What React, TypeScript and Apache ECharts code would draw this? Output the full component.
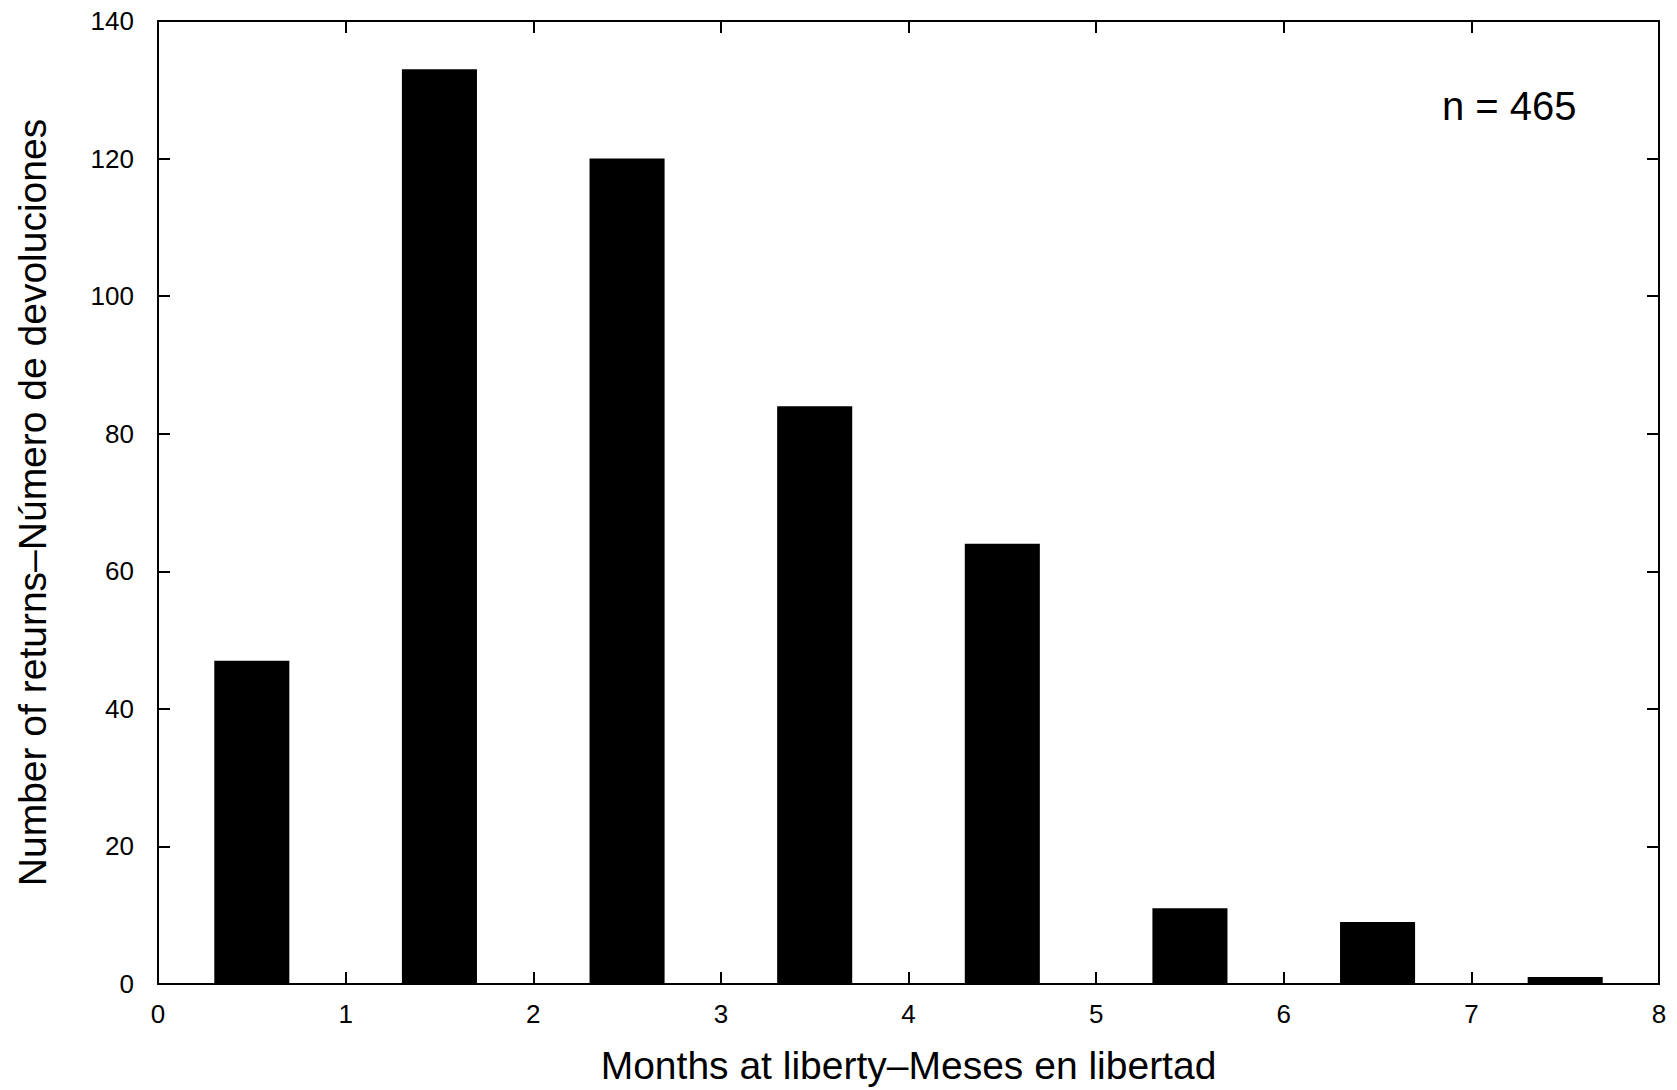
import React, { useEffect, useRef } from "react";
import * as echarts from "echarts";

const months = [0.5, 1.5, 2.5, 3.5, 4.5, 5.5, 6.5, 7.5];
const returns = [47, 133, 120, 84, 64, 11, 9, 1];
const xTicks = [0, 1, 2, 3, 4, 5, 6, 7, 8];
const yTicks = [0, 20, 40, 60, 80, 100, 120, 140];
const xTitle = "Months at liberty\u2013Meses en libertad";
const yTitle = "Number of returns\u2013Número de devoluciones";
const note = "n = 465";
const halfBin = 0.2;

const FONT = '"Liberation Sans", Arial, sans-serif';

export default function App() {
  const ref = useRef<HTMLDivElement>(null);
  useEffect(() => {
    document.body.style.margin = "0";
    const chart = echarts.init(ref.current!, null, { renderer: "svg" });
    const lineStyle = { color: "#000", width: 2 };
    const tick = { show: true, inside: true, length: 12, lineStyle: { color: "#000", width: 2 } };
    const label = { color: "#000", fontSize: 26, fontFamily: FONT };
    chart.setOption({
      animation: false,
      backgroundColor: "#fff",
      grid: { left: 158, top: 21, right: 18, bottom: 106, containLabel: false, outerBoundsMode: "none" },
      xAxis: [
        {
          type: "value",
          min: xTicks[0],
          max: xTicks[xTicks.length - 1],
          interval: 1,
          position: "bottom",
          axisLine: { show: true, onZero: false, lineStyle },
          axisTick: tick,
          axisLabel: { ...label, margin: 17 },
          splitLine: { show: false },
          name: xTitle,
          nameLocation: "middle",
          nameGap: 62,
          nameTextStyle: { color: "#000", fontSize: 39, fontFamily: FONT },
        },
        {
          type: "value",
          min: xTicks[0],
          max: xTicks[xTicks.length - 1],
          interval: 1,
          position: "top",
          axisLine: { show: true, onZero: false, lineStyle },
          axisTick: tick,
          axisLabel: { show: false },
          splitLine: { show: false },
        },
      ],
      yAxis: [
        {
          type: "value",
          min: yTicks[0],
          max: yTicks[yTicks.length - 1],
          interval: 20,
          position: "left",
          axisLine: { show: true, onZero: false, lineStyle },
          axisTick: tick,
          axisLabel: { ...label, margin: 24 },
          splitLine: { show: false },
          name: yTitle,
          nameLocation: "middle",
          nameGap: 106,
          nameRotate: 90,
          nameTextStyle: { color: "#000", fontSize: 39, fontFamily: FONT },
        },
        {
          type: "value",
          min: yTicks[0],
          max: yTicks[yTicks.length - 1],
          interval: 20,
          position: "right",
          axisLine: { show: true, onZero: false, lineStyle },
          axisTick: tick,
          axisLabel: { show: false },
          splitLine: { show: false },
        },
      ],
      graphic: [
        {
          type: "text",
          left: 1442,
          top: 86,
          style: { text: note, fill: "#000", font: `40px ${FONT}` },
        },
      ],
      series: [
        {
          type: "custom",
          xAxisIndex: 0,
          yAxisIndex: 0,
          data: months.map((m, i) => [m, returns[i]]),
          encode: { x: 0, y: 1 },
          renderItem: (params: any, api: any) => {
            const x = api.value(0);
            const y = api.value(1);
            const p1 = api.coord([x - halfBin, y]);
            const p2 = api.coord([x + halfBin, 0]);
            return {
              type: "rect",
              shape: { x: p1[0], y: p1[1], width: p2[0] - p1[0], height: p2[1] - p1[1] },
              style: { fill: "#000" },
            };
          },
          z: 1,
        },
      ],
    });
    return () => chart.dispose();
  }, []);
  return <div ref={ref} style={{ width: 1677, height: 1090 }} />;
}
